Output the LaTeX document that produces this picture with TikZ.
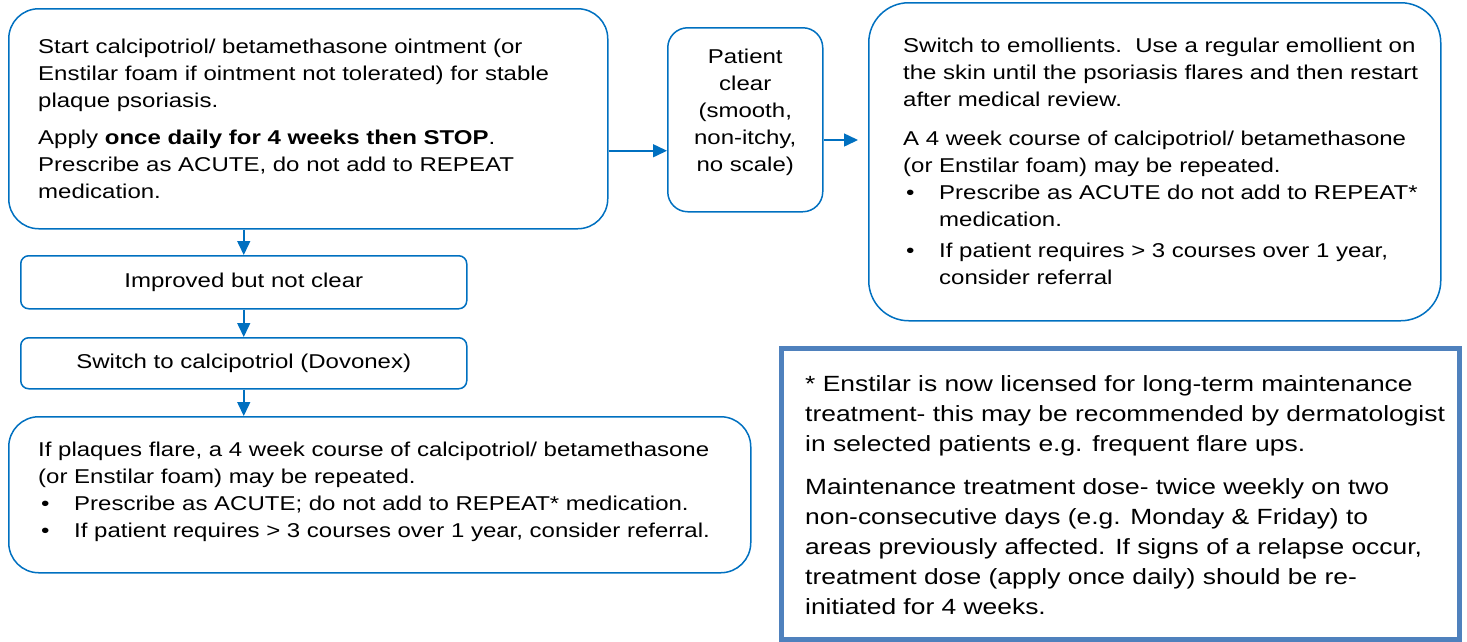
\documentclass[tikz,border=0pt]{standalone}
\usepackage{fontspec}
\setmainfont{Liberation Sans}[FakeStretch=1.2]
\usepackage{tikz}
\usetikzlibrary{arrows.meta,positioning}
\definecolor{flowblue}{HTML}{0070C0}
\definecolor{noteblue}{HTML}{4F81BD}
\tikzstyle{box}=[draw=flowblue, line width=1.5pt, anchor=north west, inner sep=0pt]
\tikzstyle{txt}=[anchor=west, align=left, inner sep=0pt, font=\fontsize{20}{27}\selectfont]
\tikzstyle{ctxt}=[align=center, font=\fontsize{20}{27}\selectfont]
\tikzstyle{flow}=[draw=flowblue, line width=1.5pt, -{Triangle[length=14pt,width=13pt]}]
\newcommand{\bul}{\makebox[36pt][l]{\hspace{3pt}\textbullet}}
\newcommand{\hang}{\hspace*{36pt}}

\begin{document}
\begin{tikzpicture}[x=1pt,y=-1pt]
\useasboundingbox (0,0) rectangle (1467,641);

% start
\node[box, rounded corners=30pt, minimum width=599pt, minimum height=220pt] (start) at (8,8) {};
\node[txt] (starttext) at ([xshift=30pt]start.west) {Start calcipotriol/ betamethasone ointment (or\\
Enstilar foam if ointment not tolerated) for stable\\
plaque psoriasis.\\[10pt]
Apply \textbf{once daily for 4 weeks then STOP}.\\
Prescribe as ACUTE, do not add to REPEAT\\
medication.};

% clear
\node[box, rounded corners=20pt, minimum width=155pt, minimum height=184pt] (clear) at (667,27) {};
\node[ctxt, inner sep=0pt] (cleartext) at ([yshift=7pt]clear.center) {Patient\\clear\\(smooth,\\non-itchy,\\no scale)};

% emollients
\node[box, rounded corners=40pt, minimum width=572pt, minimum height=318pt] (emol) at (868,2) {};
\node[txt] (emoltext) at ([xshift=35pt]emol.west) {Switch to emollients.\ \ Use a regular emollient on\\
the skin until the psoriasis flares and then restart\\
after medical review.\\[12pt]
A 4 week course of calcipotriol/ betamethasone\\
(or Enstilar foam) may be repeated.\\
\bul Prescribe as ACUTE do not add to REPEAT*\\
\hang medication.\\[4pt]
\bul If patient requires > 3 courses over 1 year,\\
\hang consider referral};

% improved / switch
\node[box, ctxt, rounded corners=8pt, minimum width=446pt, minimum height=53pt] (improved) at (20,255) {Improved but not clear};
\node[box, ctxt, rounded corners=8pt, minimum width=446pt, minimum height=51pt] (switch) at (20,337) {Switch to calcipotriol (Dovonex)};

% plaques
\node[box, rounded corners=30pt, minimum width=742pt, minimum height=156pt] (plaques) at (8,416) {};
\node[txt] (plaquestext) at ([xshift=30pt,yshift=3pt]plaques.west) {If plaques flare, a 4 week course of calcipotriol/ betamethasone\\
(or Enstilar foam) may be repeated.\\
\bul Prescribe as ACUTE; do not add to REPEAT* medication.\\
\bul If patient requires > 3 courses over 1 year, consider referral.};

% note
\node[box, draw=noteblue, line width=5pt, minimum width=678pt, minimum height=291pt] (note) at (779,346) {};
\node[txt, font=\fontsize{22}{30}\selectfont] (notetext) at ([xshift=26pt,yshift=-1pt]note.west) {* Enstilar is now licensed for long-term maintenance\\
treatment- this may be recommended by dermatologist\\
in selected patients e.g. frequent flare ups.\\[13pt]
Maintenance treatment dose- twice weekly on two\\
non-consecutive days (e.g. Monday \& Friday) to\\
areas previously affected. If signs of a relapse occur,\\
treatment dose (apply once daily) should be re-\\
initiated for 4 weeks.};

% arrows
\coordinate (emolin) at (858,140);
\draw[flow] ([yshift=-32pt]start.east) -- ([yshift=-32pt]start.east -| clear.west);
\draw[flow] (clear.east |- emolin) -- (emolin);
\draw[flow] (start.south -| improved.north) -- (improved.north);
\draw[flow] (improved.south) -- (switch.north);
\draw[flow] (switch.south) -- (switch.south |- plaques.north);

\end{tikzpicture}
\end{document}
